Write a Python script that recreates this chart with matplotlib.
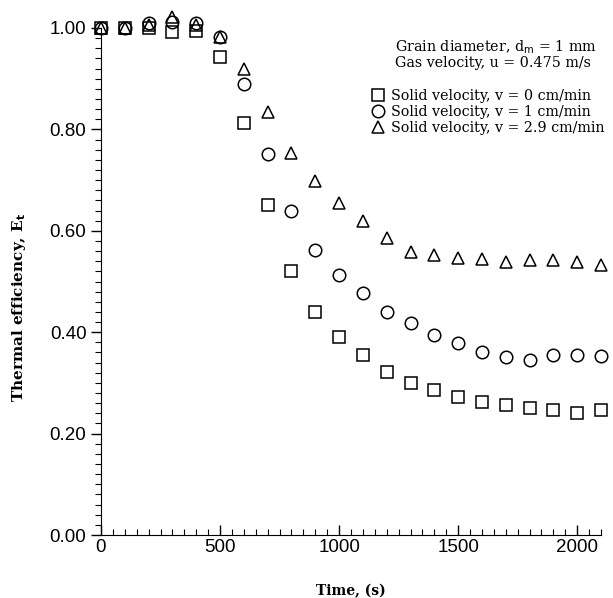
import matplotlib
matplotlib.use("Agg")
import matplotlib.pyplot as plt
from matplotlib.ticker import MultipleLocator, FormatStrFormatter
from matplotlib.lines import Line2D

time_s = [0, 100, 200, 300, 400, 500, 600, 700, 800, 900, 1000, 1100,
          1200, 1300, 1400, 1500, 1600, 1700, 1800, 1900, 2000, 2100]
eff_v0 = [1.00, 1.00, 1.00, 0.993, 0.995, 0.943, 0.813, 0.651, 0.52, 0.44, 0.39, 0.355,
          0.321, 0.300, 0.286, 0.272, 0.262, 0.256, 0.250, 0.247, 0.241, 0.247]
eff_v1 = [1.00, 1.00, 1.01, 1.012, 1.01, 0.983, 0.890, 0.751, 0.64, 0.562, 0.513, 0.477,
          0.440, 0.418, 0.394, 0.379, 0.361, 0.351, 0.345, 0.355, 0.355, 0.353]
eff_v29 = [1.00, 1.00, 1.006, 1.022, 1.006, 0.983, 0.919, 0.835, 0.754, 0.699, 0.655, 0.619,
           0.586, 0.558, 0.552, 0.546, 0.544, 0.538, 0.542, 0.542, 0.538, 0.533]
series_labels = ["Solid velocity, v = 0 cm/min",
                 "Solid velocity, v = 1 cm/min",
                 "Solid velocity, v = 2.9 cm/min"]

fig = plt.figure(figsize=(6.13, 5.98), dpi=100)
ax = fig.add_axes([101/613, 1-535/598, 500/613, (535-28)/598])

serif = "DejaVu Serif"
specs = [("s", 8.5), ("o", 9.0), ("^", 8.5)]
mk = dict(linestyle="none", markerfacecolor="none", markeredgecolor="black",
          markeredgewidth=1.1, clip_on=False)
for (m, s), vals in zip(specs, [eff_v0, eff_v1, eff_v29]):
    ax.plot(time_s, vals, marker=m, markersize=s, **mk)

ax.set_xlim(0, 2100)
ax.set_ylim(0, 1.0)
ax.spines["top"].set_visible(False)
ax.spines["right"].set_visible(False)
ax.xaxis.set_major_locator(MultipleLocator(500))
ax.xaxis.set_minor_locator(MultipleLocator(50))
ax.yaxis.set_major_locator(MultipleLocator(0.2))
ax.yaxis.set_minor_locator(MultipleLocator(0.02))
ax.yaxis.set_major_formatter(FormatStrFormatter("%.2f"))
ax.tick_params(axis="x", which="both", direction="in")
ax.tick_params(axis="y", which="both", direction="out")
ax.tick_params(which="major", length=7, width=1)
ax.tick_params(which="minor", length=4, width=0.8)
for lab in ax.get_xticklabels() + ax.get_yticklabels():
    lab.set_fontfamily("Liberation Sans")
    lab.set_fontsize(13.5)
ax.tick_params(axis="x", pad=3)

ax.set_xlabel("Time, (s)", fontfamily=serif, fontweight="bold", fontsize=10, labelpad=20)
ax.set_ylabel(r"Thermal efficiency, E$_\mathbf{t}$", fontfamily=serif, fontweight="bold",
              fontsize=11)
ax.yaxis.set_label_coords(-73/500, 0.448)

fig.text(395/613, 1-47/598, r"Grain diameter, d$_\mathrm{m}$ = 1 mm", fontfamily=serif,
         fontsize=10.3, va="center", ha="left")
fig.text(395/613, 1-63/598, "Gas velocity, u = 0.475 m/s", fontfamily=serif,
         fontsize=10.3, va="center", ha="left")

handles = [Line2D([], [], marker=m, markersize=s, linestyle="none",
                  markerfacecolor="none", markeredgecolor="black", markeredgewidth=1.1)
           for m, s in specs]
leg = fig.legend(handles, series_labels, loc="upper left",
                 bbox_to_anchor=(372/613, 1-89/598), frameon=False,
                 prop={"family": serif, "size": 10.3}, handlelength=0.9,
                 handletextpad=0.45, labelspacing=0.15, borderpad=0, borderaxespad=0)

fig.savefig("out.png", dpi=100, facecolor="white")
